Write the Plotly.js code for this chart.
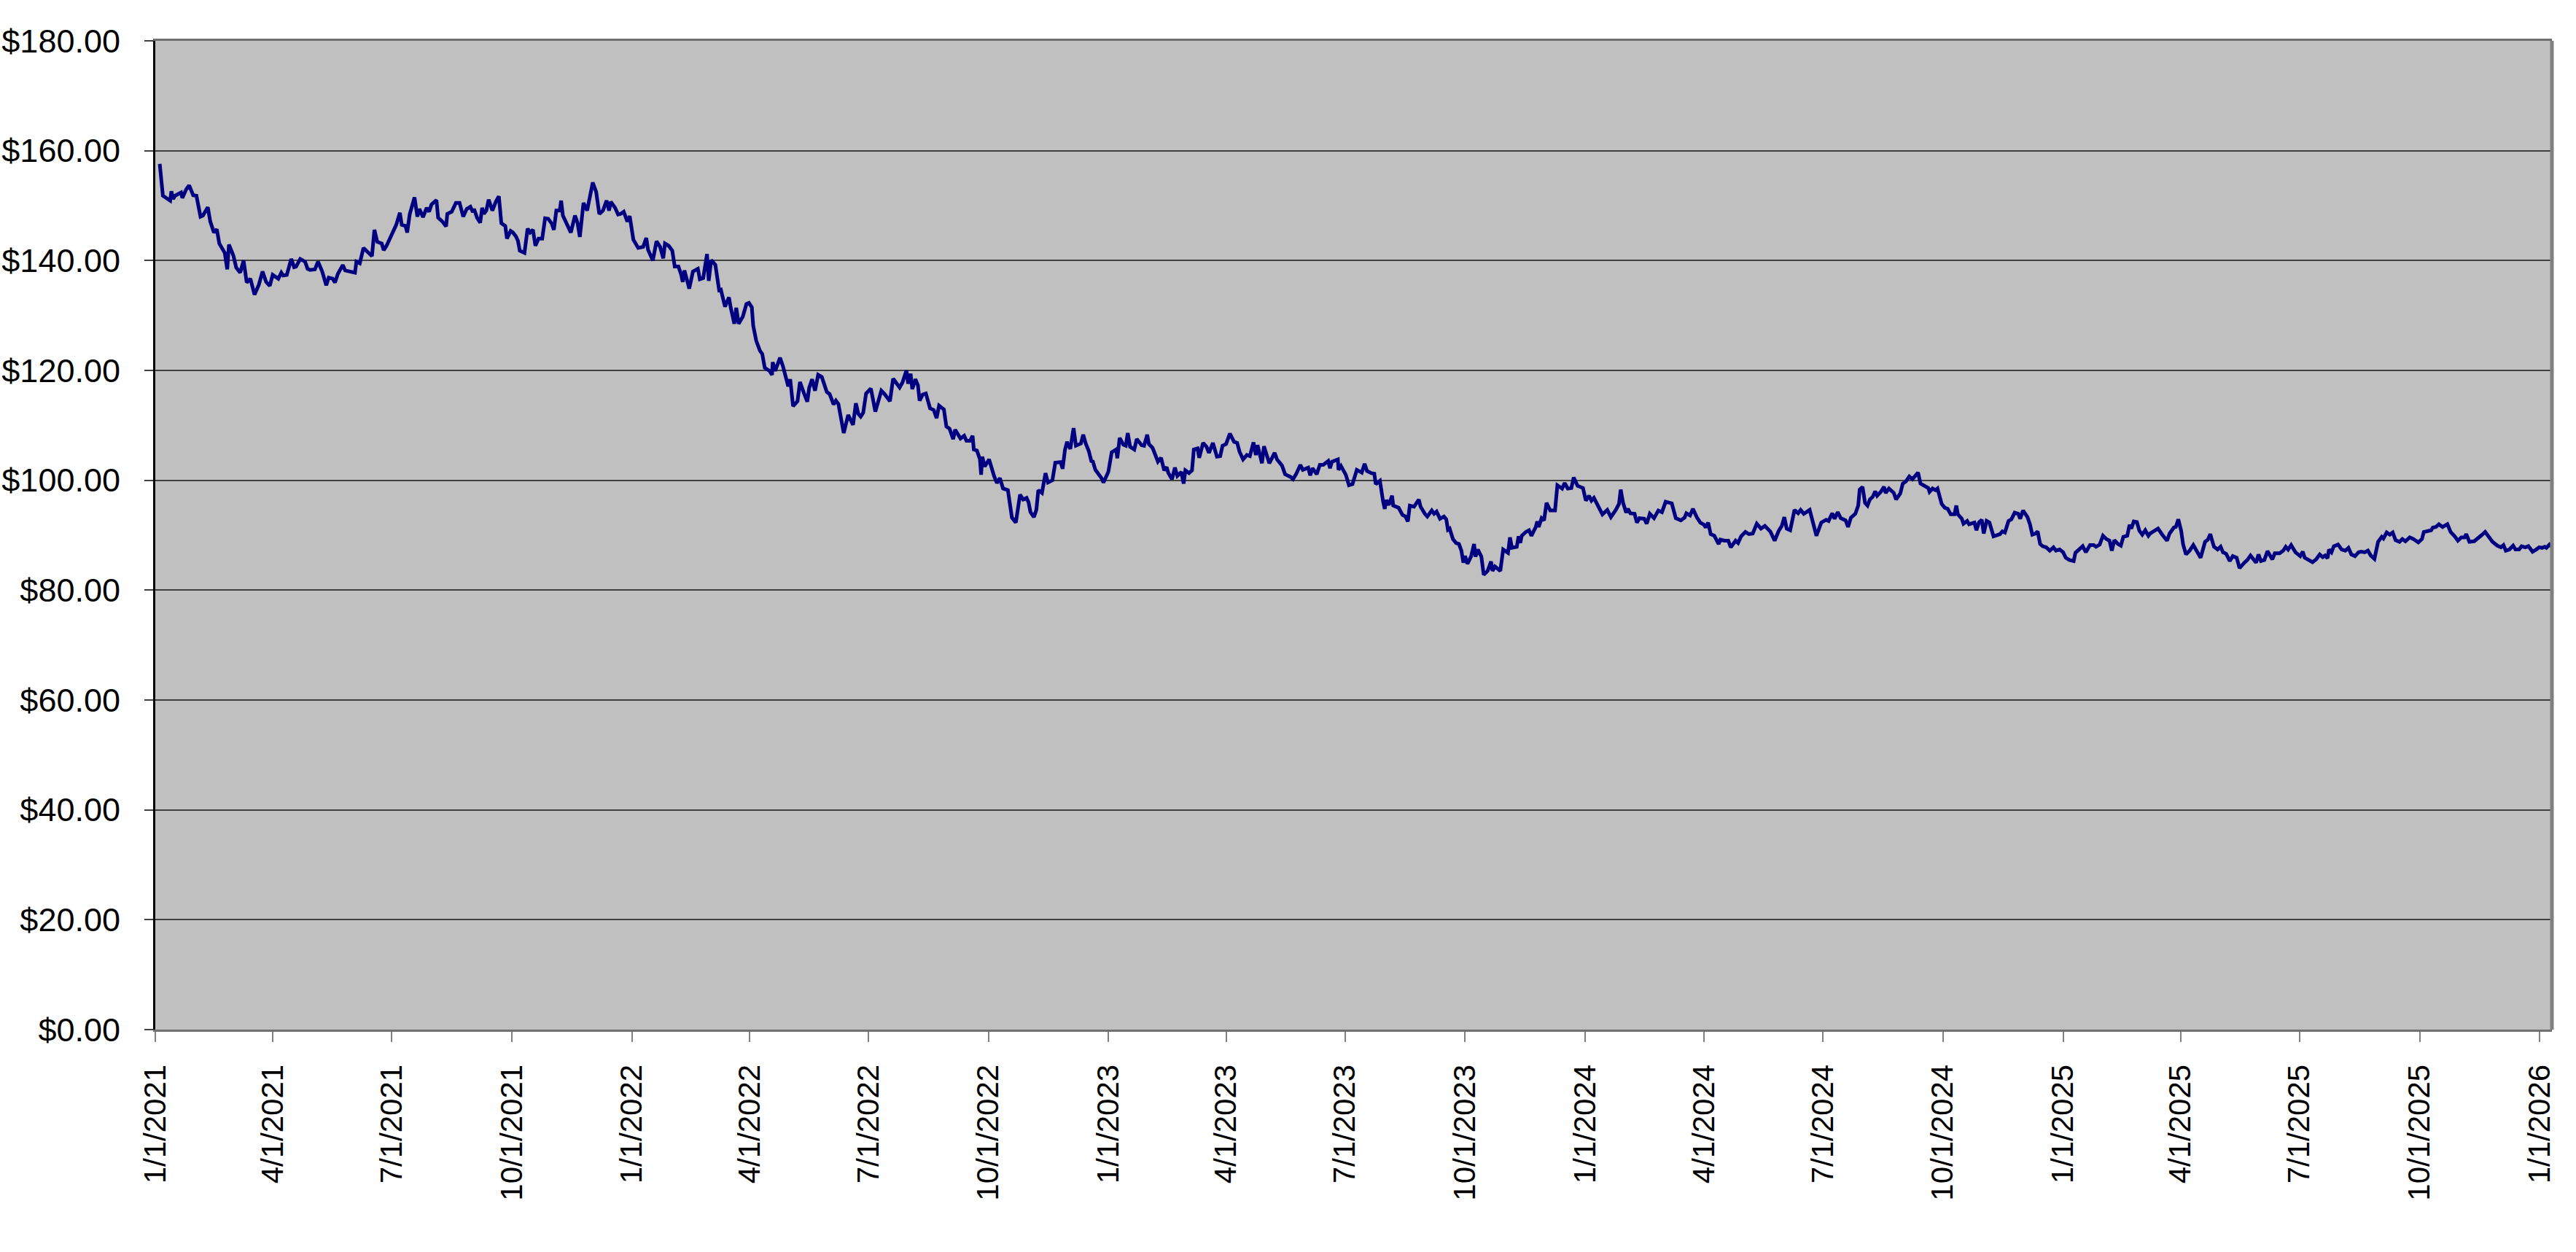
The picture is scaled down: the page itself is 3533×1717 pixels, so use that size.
<!DOCTYPE html>
<html>
<head>
<meta charset="utf-8">
<script src="https://cdn.plot.ly/plotly-3.0.1.min.js"></script>
<style>
html,body{margin:0;padding:0;background:#fff;}
#chart{width:3533px;height:1717px;}
</style>
</head>
<body>
<div id="chart"></div>
<script>
// Series: [days since 1/1/2021, price in $]
const points2021 = [
[3.4,157.6],[5.8,151.8],[11.4,150.9],[12.3,152.6],[13.6,151.2],[15.1,151.8],[19.7,152.4],[20.7,151.4],[23.5,152.9],[25.9,153.7],[29,151.9],[31.5,151.8],[34.6,148.0],[36.5,148.2],[40.2,149.7],[42.1,147.1],[44.9,145.1],[47.1,145.7],[49,143.1],[53.2,141.4],[55.1,138.4],[56.4,142.9],[59.8,140.9],[62,138.7],[65,137.8],[67.6,140.0],[70,136.0],[72.8,136.7],[76,133.8],[79.3,135.6],[82.1,138.0],[84.9,136.1],[87.7,135.4],[89.9,137.4],[94.2,136.7],[96.5,137.8],[97.9,137.3],[100.7,137.4],[104.1,140.3],[106.3,138.8],[107.8,138.9],[111,140.3],[114.7,139.8],[116.6,138.5],[118.4,138.3],[122.2,138.4],[124.6,139.8],[127.8,138.0],[130.9,135.5],[132.8,136.9],[135.8,136.7],[137.6,136.0],[139.8,137.6],[143.6,139.2],[145.4,138.2],[149.2,138.0],[152.9,137.8],[154,139.8],[156.6,139.5],[159.4,142.3],[162.6,141.6],[165.9,140.8],[167.8,145.6],[170,143.4],[173.4,143.1],[174.9,141.9],
[177.1,142.7],[180.8,144.5],[184.5,146.5],[187.3,148.7],[188.7,146.5],[191.6,146.3],[192.9,145.1],[194.8,148.4],[198.5,151.5],[200.7,148.0],[202.2,149.4],[205,147.9],[207.8,149.6],[209.7,148.9],[211.5,150.2],[215.3,151.0],[216.6,147.8],[219.9,147.1],[222.7,146.2],[223.6,148.5],[227,148.9],[230.2,150.5],[233,150.5],[235.8,148.0],[238.5,149.4],[241.3,149.8],[243.2,148.8],[244.1,149.4],[246.4,147.8],[248.8,146.9],[250.3,149.6],[251.6,148.5],[253.5,149.1],[255.3,151.1],[258.1,149.1],[260.9,150.8],[263.1,151.7],[265,146.8],[268,146.3],[269.3,144.0],[272.1,145.4],[273.9,145.1],[276.2,144.4],[277.7,143.6],[279.1,141.8],[282.7,141.4],[285.1,145.8],[287,145.1],[289.2,145.6],[291.1,142.7],[293.5,144.0],[296.3,144.0],[298.5,147.7],[300.9,147.6],[303.7,146.7],[305.2,145.6],[307.1,149.1],[309.7,149.1],[310.8,150.9],[312.1,148.2],[314.9,146.7],[318.2,145.1],[321.4,148.2],[323.3,146.9],[325.1,144.3],[327.9,150.5],[330.7,149.1],[333.1,152.2],[335,154.2],[337.6,152.5],[340,148.5],[342.8,149.1],[345.6,150.9],[347.5,149.1],[348.8,150.7],[352.1,149.6],[354.4,148.4],[356.2,148.5],[358.7,148.9],[361.5,147.1],[363.3,148.1]
];
const points2022 = [
[366.1,143.8],[368,142.9],[369.8,142.3],[373.6,142.5],[376,144.1],[377.3,142.0],[381,140.0],[383.8,143.5],[386.6,142.5],[389,140.4],[390.3,143.1],[393.1,142.7],[395.9,141.8],[397.8,138.9],[400.6,138.9],[402.8,137.4],[403.9,136.1],[405.2,138.2],[408.9,134.9],[411.7,138.0],[415.5,138.5],[417,136.6],[419.6,136.8],[422.5,141.2],[423.8,136.3],[425.7,140.1],[428.9,139.2],[431.8,134.6],[433.1,134.7],[436.3,131.6],[439.3,133.3],[440.6,131.5],[443.4,128.5],[444.9,131.4],[446.7,128.5],[449.9,129.8],[452.7,132.1],[454.6,132.3],[456.8,131.5],[457.9,128.1],[460.2,125.4],[463,123.6],[464.8,123.0],[466.7,120.5],[470.4,119.9],[472.3,119.2],[472.8,121.5],[474.7,119.9],[478.4,122.3],[480.6,120.8],[482.5,118.8],[484.7,117.1],[486.2,118.4],[488.4,113.5],[491.8,114.4],[493.7,117.9],[496.5,116.0],[499.3,114.3],[500.7,116.8],[503,118.4],[505.2,116.3],[507.6,119.2],[510.4,118.8],[514.2,116.1],[516.4,115.7],[519.4,113.8],[521.2,114.5],[523.1,113.9],[527.2,108.6],[530.6,111.9],[534.3,110.1],[536.5,114.0],[538.4,112.1],
[540.2,111.6],[542.1,112.3],[544.3,115.8],[548,116.7],[551.4,112.5],[556,116.3],[558.5,115.7],[562.6,114.4],[565,118.5],[570,116.9],[572.2,117.8],[575.2,120.0],[576.5,117.6],[578.4,119.4],[579.7,116.6],[582.1,118.4],[584,117.3],[585.3,114.5],[587.7,115.6],[590.1,115.8],[593.3,113.1],[596.1,112.8],[598.3,111.3],[600.2,113.6],[603.9,112.9],[605.8,109.8],[608.2,109.4],[611,107.5],[612.5,109.2],[616.6,107.6],[619.4,108.1],[621.2,107.2],[624,107.2],[625.9,108.1],[626.8,105.6],[629.2,105.4],[631.5,103.8],[632.4,101.0],[633.3,104.3],[635.2,102.5],[638.5,103.8],[642.3,100.8],[644.5,99.5],[646.8,100.4],[649.2,98.5],[652.9,98.2],[656,93.2],[659,92.3],[662.2,97.4],[664.6,96.5],[667.2,96.8],[668.7,96.0],[670.2,94.2],[672.8,93.3],[674.7,94.6],[676.2,98.2],[679,97.7],[681.7,101.3],[683.6,99.6],[687,100.0],[689.2,103.2],[693.3,103.3],[694.8,102.1],[696.6,105.5],[698.2,107.0],[700.7,105.7],[703.2,109.5],[705,106.3],[708.8,106.7],[710.6,108.3],[712.5,106.7],[714.9,105.3],[716.8,103.5],[718,103.4],[719.9,101.9],[724.6,100.4],[726.1,99.6],[729.8,101.5]
];
const points2023 = [
[732.4,105.1],[735.8,105.6],[736.7,104.0],[738.5,107.7],[741.3,106.5],[743.2,106.3],[744.7,108.6],[746.5,106.1],[749.7,105.6],[751.6,107.5],[755.3,106.4],[757.2,106.3],[759.6,108.3],[760.9,106.6],[763.7,105.9],[765.2,105.0],[767.8,103.4],[770.2,104.1],[772.6,101.8],[774.5,102.4],[775.8,101.3],[778.6,100.2],[780.8,102.3],[782.7,100.8],[785.7,101.5],[787.5,99.4],[788.8,101.8],[791.6,101.3],[793.9,101.8],[795.3,105.6],[798.2,105.8],[799.4,104.1],[802.4,106.8],[805,106.1],[806.9,105.0],[809.9,106.8],[813,104.3],[815.5,104.4],[817.3,106.3],[820,106.6],[822.9,108.5],[826.1,107.0],[828.5,106.8],[830.3,105.2],[833,103.8],[835.9,104.6],[838.2,104.4],[841,106.9],[842.8,104.6],[844.1,106.4],[847.5,103.1],[849,106.2],[853.1,103.1],[857.2,105.0],[859,103.8],[862.8,102.7],[865.2,101.1],[869.5,100.6],[871.3,100.2],[873.6,101.1],[876.9,102.8],[878.8,101.9],[882.9,102.3],[884.4,100.9],[886.2,102.2],[889.4,101.1],[891.8,102.8],[894.4,102.8],[898.2,103.5],[899.6,102.2],[901.1,103.4],
[905.6,103.8],[906.1,101.9],[908,102.6],[911.7,101.0],[914.1,99.1],[916.8,99.3],[920.1,101.9],[923.9,101.4],[926.1,103.0],[927.9,101.7],[931.3,101.3],[933.5,101.2],[934.6,99.3],[937.8,99.9],[940.2,96.2],[941.5,94.8],[942.8,96.4],[944.7,95.5],[947.1,97.2],[948,95.4],[952.1,95.0],[955.1,93.7],[957.4,93.4],[959.2,92.5],[960.7,95.4],[963.9,95.2],[967.6,96.5],[968.9,95.2],[972.2,93.9],[974.1,93.4],[977.5,94.5],[979.3,93.9],[981.2,94.3],[983.8,93.0],[986.8,93.4],[988.6,92.9],[989.9,91.0],[991.2,91.2],[993.7,89.3],[996.1,88.6],[998.3,88.4],[1000.2,87.2],[1001.7,85.0],[1003,86.2],[1004.9,84.8],[1007.7,86.2],[1009.9,88.4],[1011,86.1],[1012.8,87.4],[1015.5,86.1],[1017.3,82.8],[1020.3,83.5],[1022.9,85.2],[1024,83.5],[1025.9,84.3],[1030,83.5],[1032.2,87.4],[1035.9,86.8],[1037.4,89.6],[1038.9,87.7],[1042.6,87.9],[1044,89.8],[1045.3,88.6],[1046.4,89.9],[1049.6,90.6],[1052,90.9],[1053.8,89.9],[1057,91.4],[1058.3,92.5],[1059.4,91.5],[1061.6,93.1],[1063.5,92.7],[1065.4,95.9],[1068.2,94.5],[1071.9,94.5],[1073.7,99.1],[1077.3,98.5],[1079.3,99.5],[1081.7,98.5],[1084.4,98.6],[1086.2,100.5],[1089.2,99.0],[1093.3,98.6]
];
const points2024 = [
[1095.5,96.3],[1097.9,97.2],[1099.8,96.3],[1101.7,96.8],[1104.9,95.4],[1108.2,93.8],[1111.9,94.6],[1114.7,93.3],[1118.4,94.6],[1120.9,95.7],[1122.2,98.3],[1124,95.9],[1126.4,94.1],[1127.7,94.8],[1129.6,94.0],[1132.8,93.9],[1134.6,92.3],[1136.5,93.1],[1140.2,93.0],[1142.1,92.1],[1144.5,93.9],[1147.7,93.1],[1151,94.5],[1153.8,94.2],[1156.6,96.1],[1161.3,95.8],[1164.4,93.1],[1168.2,92.7],[1171.1,93.2],[1172.5,94.0],[1175.3,93.6],[1177.5,94.8],[1180.4,93.3],[1183.1,92.3],[1186,91.9],[1187.3,91.4],[1189.2,92.3],[1191.1,90.2],[1193.9,89.9],[1197.2,88.4],[1198.5,89.2],[1201.7,89.0],[1204.6,89.0],[1206.5,87.8],[1210.2,89.0],[1212.1,88.6],[1214.4,89.8],[1217.7,90.6],[1220.3,90.2],[1223.3,90.3],[1226.4,92.1],[1229.6,91.2],[1232.6,91.7],[1236.7,90.7],[1240.1,89.0],[1243.2,90.8],[1245.6,91.7],[1247.5,93.3],[1249.3,91.2],[1252,90.9],[1255.3,94.6],[1258.1,94.0],[1260,94.6],[1262.4,93.9],[1266.9,94.6],[1269.3,92.6],
[1272.1,89.9],[1275.8,92.3],[1279.5,92.8],[1281.4,92.6],[1284.2,94.0],[1286,93.0],[1288.4,94.2],[1290.7,93.1],[1294.4,92.7],[1296.3,91.5],[1298.5,93.2],[1301.9,93.9],[1304.1,95.4],[1305.2,98.3],[1307.4,98.8],[1309.3,95.9],[1311.2,95.4],[1313,96.5],[1315.2,97.0],[1317.1,98.0],[1318.6,97.2],[1321.4,97.9],[1323.8,98.8],[1325.1,97.7],[1327.6,98.5],[1331.3,97.7],[1333.1,96.5],[1336.3,97.6],[1338.2,99.4],[1340.6,99.8],[1343.2,100.7],[1345.6,100.2],[1347.5,100.7],[1349.9,101.4],[1351.8,99.4],[1354.9,98.9],[1357.7,98.6],[1358.7,97.9],[1361,98.5],[1363.3,98.2],[1364.8,98.5],[1368,95.7],[1370.4,95.0],[1372.6,94.8],[1374.9,93.8],[1377.8,93.8],[1379.2,95.4],[1380.4,93.8],[1383.4,93.0],[1384.7,92.1],[1387.5,92.6],[1389,92.0],[1393.1,92.3],[1394.6,90.9],[1396.5,92.3],[1398.7,92.8],[1400.2,90.3],[1402.4,92.6],[1404.6,92.3],[1407.7,89.8],[1409.9,90.0],[1412.7,90.2],[1414.5,90.7],[1416.4,90.5],[1419.2,92.6],[1421.4,92.9],[1423.9,94.1],[1426.6,93.9],[1428.1,93.0],[1430.3,94.5],[1433.7,93.3],[1435.6,92.0],[1437.4,90.1],[1439.7,90.3],[1441.5,90.7],[1443.4,88.4],[1445.3,88.0],[1448,87.8],[1450.8,87.2],[1453.6,87.8],[1455.5,87.2],[1458.3,87.4]
];
const points2025 = [
[1461,86.9],[1463,85.9],[1465.7,85.5],[1469.1,85.3],[1470.4,86.8],[1473.2,87.4],[1476,88.0],[1478.4,86.9],[1481.6,88.2],[1484.4,88.2],[1486.2,87.9],[1489,88.3],[1491.5,89.9],[1494.1,89.3],[1496.5,89.0],[1498.3,87.2],[1500.2,89.1],[1503,88.4],[1505.2,88.1],[1507.1,89.7],[1510.1,89.9],[1511.9,91.9],[1513.2,91.2],[1515.1,92.5],[1517.5,92.4],[1519.4,90.8],[1521.6,90.1],[1523.9,90.9],[1526.3,89.9],[1527.6,90.3],[1530.9,90.8],[1533.7,91.2],[1536.9,90.1],[1540.6,89.0],[1542.5,90.3],[1545.8,91.4],[1547.3,91.5],[1549.2,92.9],[1551.4,90.8],[1552.9,88.3],[1555.1,86.5],[1557.9,87.2],[1560.7,88.2],[1563.5,87.0],[1566.3,85.9],[1569.7,88.8],[1571.9,89.2],[1573.7,90.2],[1576.5,87.9],[1579.3,87.4],[1581.6,87.9],[1583.4,86.9],[1585.9,86.6],[1588.6,85.3],[1590.9,86.2],[1593.9,85.9],[1596.1,84.0],[1599.8,85.0],[1602.1,85.5],[1604.5,86.3],[1606.9,85.5],[1608.8,85.0],[1610.6,86.5],[1612.5,85.3],[1615.1,85.5],[1617.5,87.1],[1621.2,85.6],[1623.1,86.7],[1626.8,86.7],[1629.6,87.2],[1631.5,87.9],[1633.3,87.4],[1635.6,88.2],[1638.9,86.9],[1642.6,86.2],[1644.5,87.0],[1646,85.9],
[1652,85.1],[1654.7,85.6],[1657.5,86.5],[1659.8,86.0],[1661.6,86.3],[1663.5,85.8],[1664.6,87.4],[1666.5,86.9],[1668.3,88.0],[1671.5,88.3],[1674.3,87.4],[1677.1,87.2],[1679.5,87.7],[1681.7,86.5],[1684.5,86.2],[1687.3,86.9],[1689.2,87.0],[1692,86.9],[1694.4,87.2],[1696.6,86.3],[1699.4,85.7],[1702.2,88.8],[1705,89.7],[1706.3,89.4],[1708.8,90.5],[1711.2,90.1],[1713.4,90.5],[1715.6,89.1],[1718.6,88.8],[1720.8,89.3],[1723.1,88.9],[1726.4,89.6],[1729.2,89.3],[1733,88.7],[1735.8,89.3],[1737.2,90.6],[1740.4,90.8],[1742.8,90.9],[1744.1,91.4],[1746.5,91.5],[1748.8,92.0],[1751.6,91.5],[1755.3,92.0],[1757.7,90.6],[1760.9,89.8],[1763.3,89.0],[1765.9,89.6],[1768.3,89.6],[1769.7,90.2],[1772.1,88.8],[1775.8,88.9],[1778.2,89.3],[1781.4,90.0],[1784.2,90.6],[1787,89.6],[1789.8,88.8],[1793.5,88.1],[1796.3,87.8],[1798.2,88.2],[1800,87.2],[1802.8,87.4],[1805.6,88.1],[1807.4,87.4],[1810.2,87.4],[1812.1,88.0],[1814.9,87.8],[1817.3,88.0],[1820.5,87.0],[1823.3,87.4],[1825.5,87.8],[1827.9,87.7],[1829.8,87.9],[1831.1,87.7],[1833.5,88.3],[1835.4,87.9]
];

// Axis ticks
const tickDates = ['2021-01-01','2021-04-01','2021-07-01','2021-10-01','2022-01-01','2022-04-01','2022-07-01','2022-10-01','2023-01-01','2023-04-01','2023-07-01','2023-10-01','2024-01-01','2024-04-01','2024-07-01','2024-10-01','2025-01-01','2025-04-01','2025-07-01','2025-10-01','2026-01-01'];
const tickLabels = ['1/1/2021','4/1/2021','7/1/2021','10/1/2021','1/1/2022','4/1/2022','7/1/2022','10/1/2022','1/1/2023','4/1/2023','7/1/2023','10/1/2023','1/1/2024','4/1/2024','7/1/2024','10/1/2024','1/1/2025','4/1/2025','7/1/2025','10/1/2025','1/1/2026'];
const xRange = ['2021-01-01','2026-01-10 08:00'];
const yRange = [0, 180];

const allPoints = [].concat(points2021, points2022, points2023, points2024, points2025);
const base = Date.UTC(2021, 0, 1);
function toDateStr(d) {
  return new Date(base + d * 86400000).toISOString().slice(0, 19).replace('T', ' ');
}
const xs = allPoints.map(p => toDateStr(p[0]));
const ys = allPoints.map(p => p[1]);

const font = {family: '"Liberation Sans", Arial, Helvetica, sans-serif', color: '#000'};

const trace = {
  type: 'scatter', mode: 'lines', x: xs, y: ys,
  line: {color: '#000080', width: 5},
  hoverinfo: 'skip', showlegend: false
};

const layout = {
  width: 3533, height: 1717,
  margin: {l: 213, r: 33, t: 56, b: 305, pad: 0},
  paper_bgcolor: '#ffffff',
  plot_bgcolor: '#c0c0c0',
  showlegend: false,
  font: font,
  xaxis: {
    type: 'date', range: xRange,
    tickmode: 'array', tickvals: tickDates, ticktext: tickLabels,
    tickangle: -90, tickfont: Object.assign({size: 42}, font),
    ticks: 'outside', ticklen: 14, tickwidth: 2, tickcolor: '#808080',
    ticklabelstandoff: 14,
    showgrid: false, zeroline: false,
    showline: true, linecolor: '#707070', linewidth: 3, mirror: true
  },
  yaxis: {
    range: yRange, dtick: 20, tick0: 0,
    tickprefix: '$', tickformat: ',.2f',
    tickfont: Object.assign({size: 45}, font),
    ticks: 'outside', ticklen: 12, tickwidth: 2, tickcolor: '#404040',
    ticklabelstandoff: 24,
    showgrid: true, gridcolor: '#404040', gridwidth: 2,
    zeroline: false,
    showline: true, linecolor: '#000000', linewidth: 3
  },
  shapes: [
    {type: 'line', xref: 'paper', yref: 'paper', x0: 1, x1: 1, y0: 0, y1: 1,
     line: {color: '#808080', width: 5}}
  ]
};

Plotly.newPlot('chart', [trace], layout, {staticPlot: true, displayModeBar: false});
</script>
</body>
</html>
